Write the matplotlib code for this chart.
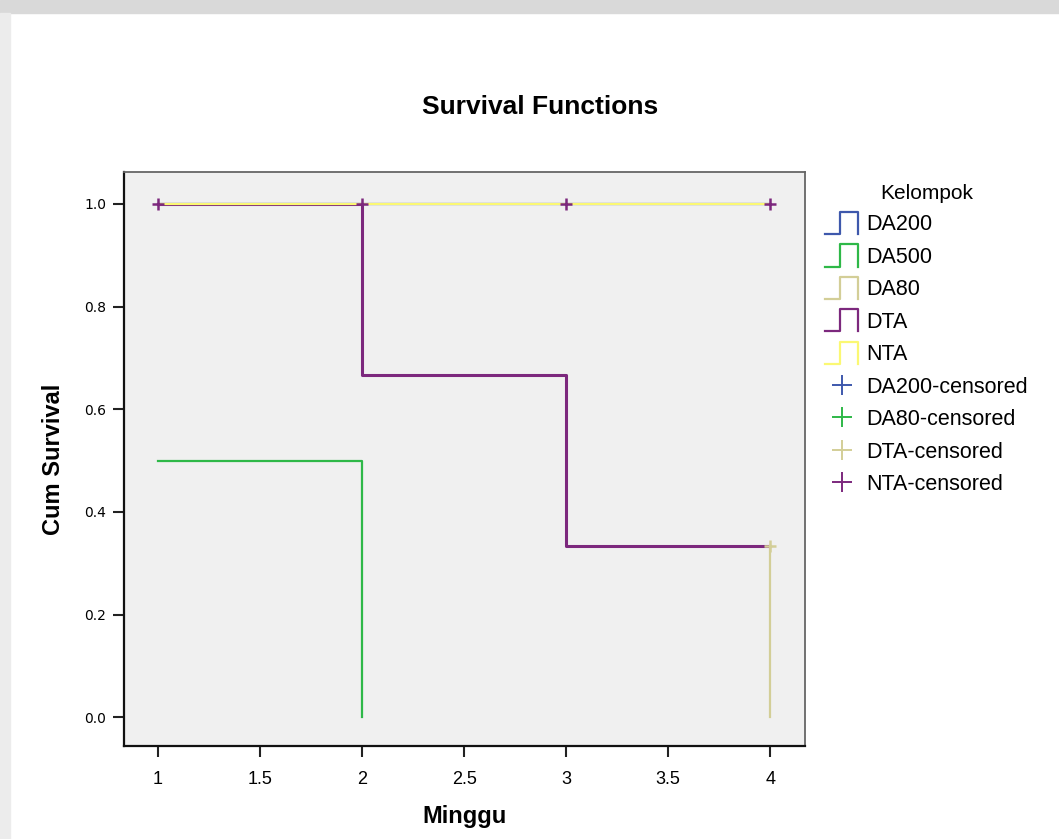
import matplotlib
matplotlib.use("Agg")
import matplotlib.pyplot as plt
import numpy as np
from matplotlib.legend_handler import HandlerBase
from matplotlib.lines import Line2D
from matplotlib.patches import Rectangle

# ===== data (Kaplan-Meier steps)
groups = ["DA200", "DA500", "DA80", "DTA", "NTA"]
colors = {"DA200": "#3e58ac", "DA500": "#2eb848", "DA80": "#d3ce97",
          "DTA": "#7c287d", "NTA": "#fbf873"}

da200_t = [1, 2, 3, 4]
da200_s = [1.0, 1.0, 1.0, 1.0]
da500_t = [1, 2]
da500_s = [0.5, 0.0]
da80_t = [4, 4]
da80_s = [0.333, 0.0]
dta_t = [1, 2, 3, 4]
dta_s = [1.0, 0.667, 0.333, 0.333]
nta_t = [1, 4]
nta_s = [1.0, 1.0]

# censored marks
nta_cens_t = [1, 2, 3, 4]
nta_cens_s = [1.0, 1.0, 1.0, 1.0]
dta_cens_t = [4]
dta_cens_s = [0.333]

cens_labels = ["DA200-censored", "DA80-censored", "DTA-censored", "NTA-censored"]
cens_colors = ["#3e58ac", "#2eb848", "#d3ce97", "#7c287d"]

x_ticks = [1, 1.5, 2, 2.5, 3, 3.5, 4]
x_ticklabels = ["1", "1.5", "2", "2.5", "3", "3.5", "4"]
y_ticks = [0.0, 0.2, 0.4, 0.6, 0.8, 1.0]


class StepHandler(HandlerBase):
    """legend icon shaped like a small survival step"""

    def create_artists(self, legend, orig_handle, xdescent, ydescent,
                       width, height, fontsize, trans):
        xs = np.array([0, 0.45, 0.45, 1.0, 1.0]) * width - xdescent
        ys = np.array([-0.15, -0.15, 1.15, 1.15, -0.15]) * height - ydescent
        line = Line2D(xs, ys, color=orig_handle.get_color(), lw=1.6)
        line.set_transform(trans)
        return [line]


def main():
    plt.rcParams["font.family"] = ["Liberation Sans", "DejaVu Sans"]
    fig = plt.figure(figsize=(10.59, 8.39), dpi=100)

    # grey watermark bits round the edge
    fig.patches.append(Rectangle((0, 1 - 13 / 839), 1, 13 / 839,
                                 transform=fig.transFigure, color="#d9d9d9", zorder=-5))
    fig.patches.append(Rectangle((0, 0), 10 / 1059, 1 - 13 / 839,
                                 transform=fig.transFigure, color="#ececec", zorder=-5))

    ax = fig.add_axes([124 / 1059, 1 - 746 / 839, 681 / 1059, 574 / 839])
    ax.set_facecolor("#f0f0f0")

    lw = 1.6
    ax.step(da200_t, da200_s, where="post", color=colors["DA200"], lw=lw)
    ax.step(da500_t, da500_s, where="post", color=colors["DA500"], lw=lw)
    ax.step(da80_t, da80_s, where="post", color=colors["DA80"], lw=lw)
    ax.step(dta_t, dta_s, where="post", color=colors["DTA"], lw=2.2)
    ax.step(nta_t, nta_s, where="post", color=colors["NTA"], lw=lw)

    ax.plot(nta_cens_t, nta_cens_s, "+", color=colors["DTA"], ms=9, mew=1.8)
    ax.plot(dta_cens_t, dta_cens_s, "+", color=colors["DA80"], ms=9, mew=1.8)

    ax.set_xlim(0.834, 4.17)
    ax.set_ylim(-0.056, 1.062)
    ax.set_xticks(x_ticks)
    ax.set_xticklabels(x_ticklabels, fontsize=13)
    ax.set_yticks(y_ticks)
    ax.set_yticklabels([f"{v:.1f}" for v in y_ticks], fontsize=10, family="DejaVu Sans")
    ax.tick_params(axis="both", direction="out", length=8, width=1.5, color="#222222")
    ax.tick_params(axis="x", pad=10)
    ax.tick_params(axis="y", pad=5)
    for side in ["left", "bottom"]:
        ax.spines[side].set_linewidth(1.6)
        ax.spines[side].set_color("#111111")
    for side in ["top", "right"]:
        ax.spines[side].set_linewidth(1.3)
        ax.spines[side].set_color("#666666")

    ax.set_xlabel("Minggu", fontsize=17, fontweight="bold", labelpad=12)
    ax.set_ylabel("Cum Survival", fontsize=17, fontweight="bold", labelpad=14)
    fig.text(540 / 1059, 1 - 107 / 839, "Survival Functions", fontsize=19,
             fontweight="bold", ha="center", va="center")

    # ===== legend
    step_handles = [Line2D([], [], color=colors[g]) for g in groups]
    cens_handles = [Line2D([], [], color=c, marker="+", linestyle="None", ms=14, mew=1.4)
                    for c in cens_colors]
    handler_map = {h: StepHandler() for h in step_handles}
    fig.legend(step_handles + cens_handles, groups + cens_labels,
               handler_map=handler_map, title="Kelompok", title_fontsize=15,
               fontsize=15.5, frameon=False, loc="upper left",
               bbox_to_anchor=(825 / 1059, 1 - 184 / 839), borderpad=0,
               borderaxespad=0, handlelength=1.55, handletextpad=0.35,
               labelspacing=0.53, handleheight=0.85)

    fig.savefig("out.png", dpi=100)


if __name__ == "__main__":
    main()
